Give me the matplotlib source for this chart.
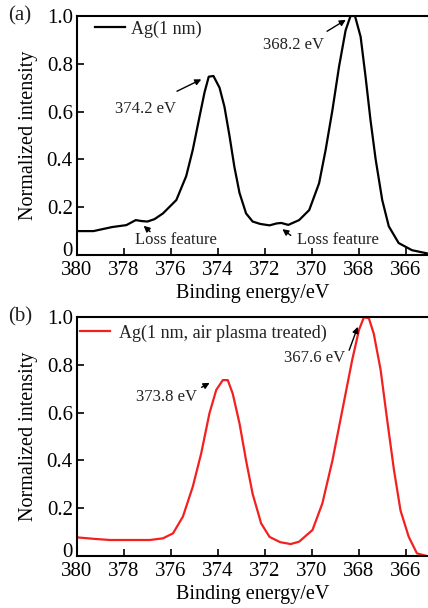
import numpy as np
import matplotlib
matplotlib.use("Agg")
import matplotlib.pyplot as plt
from matplotlib.transforms import ScaledTranslation

plt.rcParams["font.family"] = ["Liberation Serif", "DejaVu Serif"]
plt.rcParams["text.color"] = "#222222"

# Panel (a): Ag (1 nm)
energy_a = [380.0, 379.3, 378.5, 377.9, 377.5, 377.25, 377.0, 376.7, 376.34, 375.77,
            375.35, 375.07, 374.78, 374.57, 374.39, 374.19, 373.93, 373.72, 373.5, 373.3,
            373.08, 372.8, 372.52, 372.2, 371.8, 371.5, 371.3, 371.0, 370.54, 370.11,
            369.69, 369.41, 369.12, 368.84, 368.56, 368.35, 368.16, 367.92, 367.71, 367.5,
            367.28, 367.0, 366.72, 366.3, 365.73, 365.1]
intensity_a = [0.100, 0.100, 0.117, 0.125, 0.146, 0.142, 0.140, 0.150, 0.174, 0.230,
               0.330, 0.440, 0.580, 0.680, 0.746, 0.749, 0.700, 0.620, 0.495, 0.370,
               0.260, 0.174, 0.140, 0.130, 0.124, 0.132, 0.134, 0.126, 0.146, 0.188,
               0.300, 0.440, 0.607, 0.788, 0.940, 1.000, 1.000, 0.913, 0.746, 0.565,
               0.400, 0.230, 0.120, 0.050, 0.020, 0.007]

# Panel (b): Ag (1 nm, air plasma treated)
energy_b = [380.0, 379.3, 378.6, 377.6, 376.9, 376.34, 375.91, 375.49, 375.07, 374.71,
            374.36, 374.07, 373.79, 373.58, 373.37, 373.08, 372.8, 372.52, 372.16, 371.8,
            371.35, 370.9, 370.54, 369.97, 369.55, 369.12, 368.7, 368.28, 367.99, 367.78,
            367.57, 367.36, 367.07, 366.79, 366.5, 366.22, 365.87, 365.52, 365.1]
intensity_b = [0.078, 0.072, 0.067, 0.067, 0.067, 0.074, 0.095, 0.165, 0.290, 0.430,
               0.597, 0.695, 0.736, 0.736, 0.680, 0.555, 0.400, 0.260, 0.137, 0.080,
               0.058, 0.050, 0.060, 0.109, 0.220, 0.400, 0.610, 0.820, 0.946, 0.999,
               0.995, 0.930, 0.780, 0.570, 0.360, 0.190, 0.080, 0.011, 0.000]

x_ticks = [380, 378, 376, 374, 372, 370, 368, 366]
y_ticks = [0, 0.2, 0.4, 0.6, 0.8, 1.0]
y_tick_labels = ["0", "0.2", "0.4", "0.6", "0.8", "1.0"]

fig = plt.figure(figsize=(4.28, 6.08), dpi=100)
ax_a = fig.add_axes([0.18, 0.5806, 0.82, 0.3931])
ax_b = fig.add_axes([0.18, 0.0855, 0.82, 0.3931])


def style_axes(ax):
    ax.set_xlim(380, 365.05)
    ax.set_ylim(0, 1.0)
    ax.set_xticks(x_ticks)
    ax.set_yticks(y_ticks)
    ax.set_yticklabels(y_tick_labels)
    ax.tick_params(direction="in", length=5, width=1.2, labelsize=15, pad=3)
    ax.tick_params(axis="x", pad=4)
    for side in ["left", "bottom", "top"]:
        ax.spines[side].set_linewidth(1.5)
    ax.spines["right"].set_visible(False)
    ax.set_xlabel("Binding energy/eV", fontsize=14.5, labelpad=3)
    ax.set_ylabel("Normalized intensity", fontsize=14.5, labelpad=6)
    # lift the "0" label a little so it clears the 380 label, as in the original
    zero_label = ax.yaxis.get_major_ticks()[0].label1
    zero_label.set_transform(zero_label.get_transform()
                             + ScaledTranslation(0, 6 / 100, fig.dpi_scale_trans))


arrow = dict(arrowstyle="-|>", color="black", lw=1.0, mutation_scale=9)

# (a)
ax_a.plot(energy_a, intensity_a, color="black", lw=1.6, label="Ag(1 nm)")
style_axes(ax_a)
ax_a.legend(loc="upper left", bbox_to_anchor=(0.031, 1.0125), frameon=False,
            fontsize=13, handlelength=1.66, handletextpad=0.3, borderaxespad=0)
ax_a.annotate("", xy=(374.6, 0.74), xytext=(375.85, 0.68), arrowprops=arrow)
ax_a.text(377.1, 0.61, "374.2 eV", fontsize=12, ha="center", va="center")
ax_a.annotate("", xy=(368.45, 0.99), xytext=(369.45, 0.93), arrowprops=arrow)
ax_a.text(370.8, 0.88, "368.2 eV", fontsize=12, ha="center", va="center")
ax_a.annotate("", xy=(377.25, 0.13), xytext=(376.8, 0.09), arrowprops=arrow)
ax_a.text(375.8, 0.063, "Loss feature", fontsize=12, ha="center", va="center")
ax_a.annotate("", xy=(371.35, 0.115), xytext=(370.8, 0.075), arrowprops=arrow)
ax_a.text(368.9, 0.063, "Loss feature", fontsize=12, ha="center", va="center")
fig.text(0.018, 0.9737, "(a)", fontsize=15, va="center")

# (b)
ax_b.plot(energy_b, intensity_b, color="#f42020", lw=1.6,
          label="Ag(1 nm, air plasma treated)")
style_axes(ax_b)
ax_b.legend(loc="upper left", bbox_to_anchor=(-0.012, 1.0), frameon=False,
            fontsize=13, handlelength=1.66, handletextpad=0.5, borderaxespad=0)
ax_b.annotate("", xy=(374.25, 0.73), xytext=(374.8, 0.70), arrowprops=arrow)
ax_b.text(376.2, 0.665, "373.8 eV", fontsize=12, ha="center", va="center")
ax_b.annotate("", xy=(368.0, 0.97), xytext=(368.45, 0.85), arrowprops=arrow)
ax_b.text(369.9, 0.83, "367.6 eV", fontsize=12, ha="center", va="center")
fig.text(0.018, 0.4786, "(b)", fontsize=15, va="center")

fig.savefig("out.png", dpi=100)
